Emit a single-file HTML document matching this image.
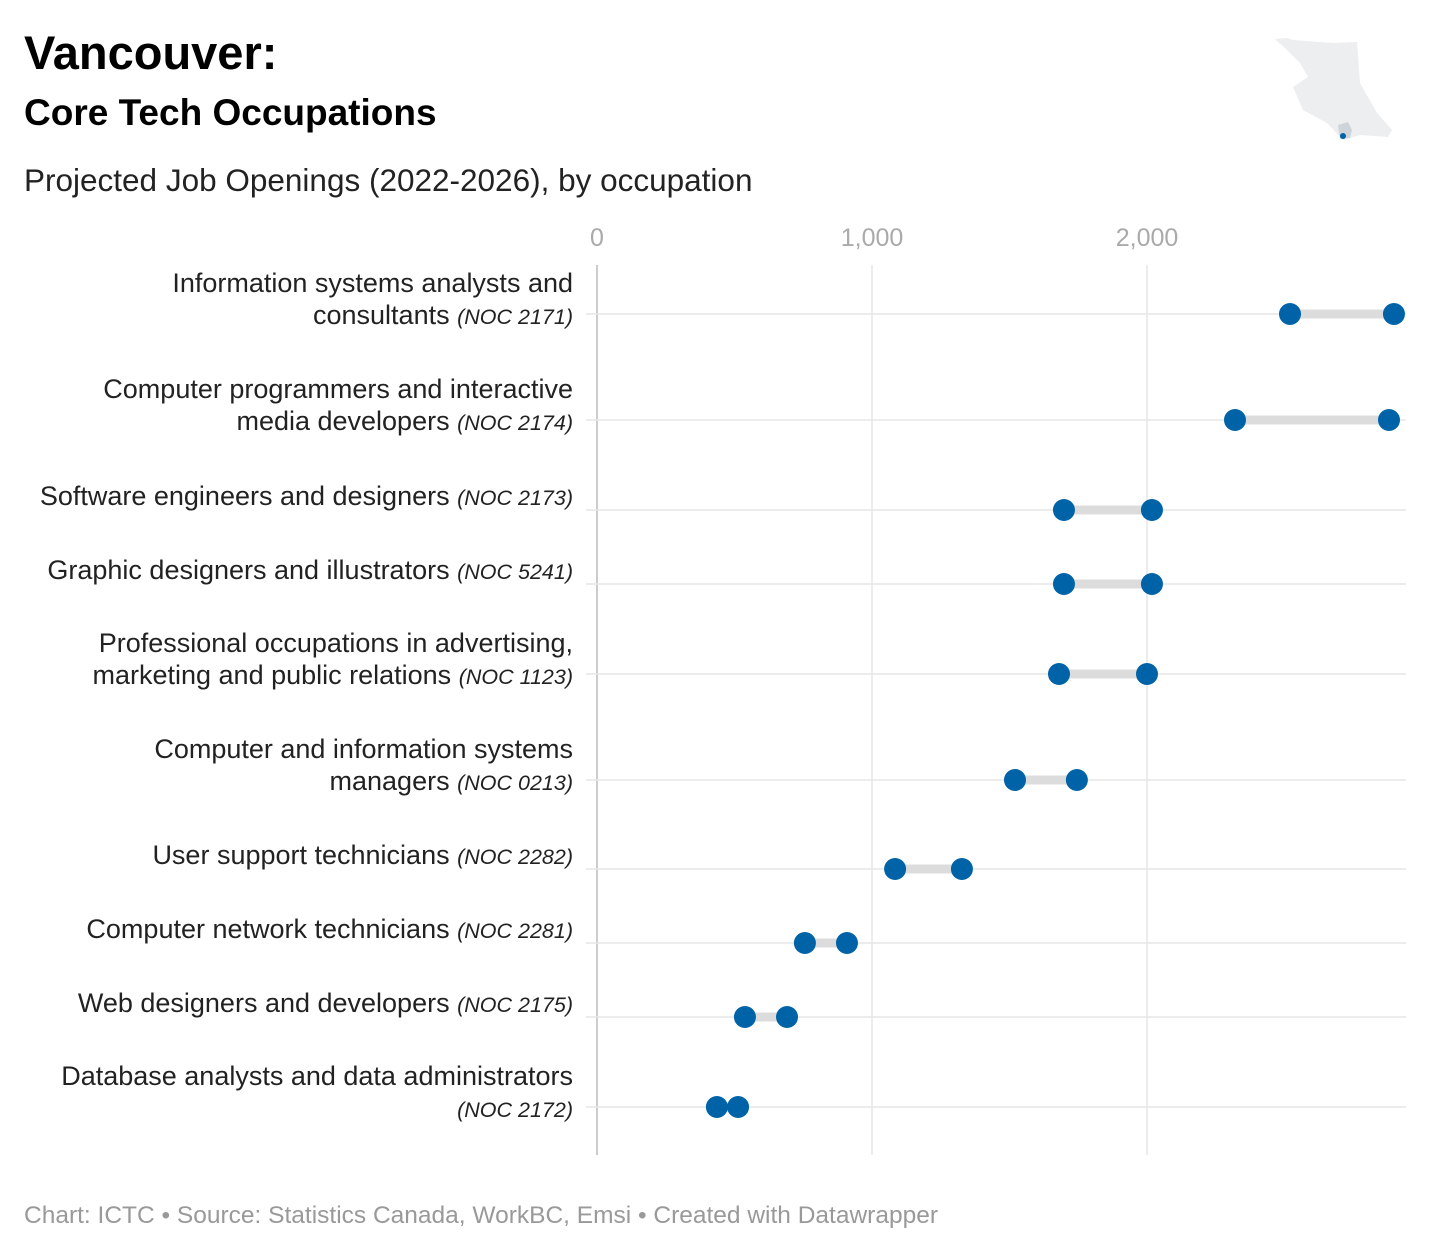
<!DOCTYPE html>
<html><head><meta charset="utf-8"><style>
body{margin:0;background:#fff;font-family:"Liberation Sans",sans-serif;}
#wrap{position:relative;width:1431px;height:1255px;overflow:hidden;}
.t{position:absolute;white-space:nowrap;color:#000;}
</style></head><body>
<div id="wrap">
<div class="t" style="left:24px;top:25px;font-size:47px;font-weight:bold;">Vancouver:</div>
<div class="t" style="left:24px;top:92px;font-size:37px;font-weight:bold;">Core Tech Occupations</div>
<div class="t" style="left:24px;top:162px;font-size:31.5px;color:#222;">Projected Job Openings (2022-2026), by occupation</div>
<div class="t" style="left:24px;top:1202px;font-size:24.5px;color:#999;">Chart: ICTC • Source: Statistics Canada, WorkBC, Emsi • Created with Datawrapper</div>
<svg id="chart" width="1431" height="1255" style="position:absolute;left:0;top:0">
<polygon fill="#eceef0" points="1275,39 1287,38 1293,40 1333,43 1357,42 1360,83 1377,113 1392,130 1388,137 1360,135 1343,140 1327,123 1303,110 1293,87 1308,77 1300,63 1287,50"/>
<polygon fill="#cfd4da" points="1338,125 1348,122 1352,130 1350,138 1340,139"/>
<circle cx="1343" cy="136" r="3" fill="#0063a7"/>
</svg>
</div>
<script>
const categories=["Information systems analysts and|consultants","Computer programmers and interactive|media developers","Software engineers and designers","Graphic designers and illustrators","Professional occupations in advertising,|marketing and public relations","Computer and information systems|managers","User support technicians","Computer network technicians","Web designers and developers","Database analysts and data administrators|"];
const nocCodes=["2171","2174","2173","5241","1123","0213","2282","2281","2175","2172"];
const lowValues=[2520,2320,1698,1698,1680,1520,1084,756,538,436];
const highValues=[2898,2880,2018,2018,2000,1745,1327,909,691,513];
const ticks=[0,1000,2000];
const tickLabels=["0","1,000","2,000"];
const rowY=[314,420,510,584,674,780,869,943,1017,1107];
const svg=document.getElementById('chart');
const NS='http://www.w3.org/2000/svg';
const x=v=>597+v*0.275;
function mk(t,a){const e=document.createElementNS(NS,t);for(const k in a)e.setAttribute(k,a[k]);svg.appendChild(e);return e;}
ticks.forEach((t,i)=>{
  const l=mk('line',{x1:x(t),x2:x(t),y1:265,y2:1155,stroke:t===0?'#ccc':'#e6e6e6','stroke-width':t===0?2:1.5});
  
  
  const tx=mk('text',{x:x(t),y:246,'text-anchor':'middle','font-size':25,fill:'#aaa','font-family':'Liberation Sans, sans-serif'});
  tx.textContent=tickLabels[i];
  
  
});
categories.forEach((c,i)=>{
  const y=rowY[i];
  const g=mk('line',{x1:586,x2:1406,y1:y,y2:y,stroke:'#e6e6e6','stroke-width':1.5});
  
  
  const parts=c.split('|');
  const lines=parts.length>1?parts:[parts[0]];
  lines.forEach((p,j)=>{
    const last=j===lines.length-1;
    const ty=lines.length===1?y-5:y+10-(lines.length-1-j)*32;
    const t=mk('text',{x:573,y:ty,'text-anchor':'end','font-size':27,fill:'#222','font-family':'Liberation Sans, sans-serif'});
    
    
    if(p){const s=document.createElementNS(NS,'tspan');s.textContent=p+(last?' ':'');t.appendChild(s);}
    if(last){const s=document.createElementNS(NS,'tspan');s.setAttribute('font-style','italic');s.setAttribute('font-size','21.5');s.textContent='(NOC '+nocCodes[i]+')';t.appendChild(s);}
  });
  const r=mk('line',{x1:x(lowValues[i]),x2:x(highValues[i]),y1:y,y2:y,stroke:'#dcdcdc','stroke-width':9});
  
  
  [lowValues[i],highValues[i]].forEach((v,k)=>{
    const d=mk('circle',{cx:x(v),cy:y,r:11,fill:'#0063a7'});
    
    
  });
});
</script>
</body></html>
